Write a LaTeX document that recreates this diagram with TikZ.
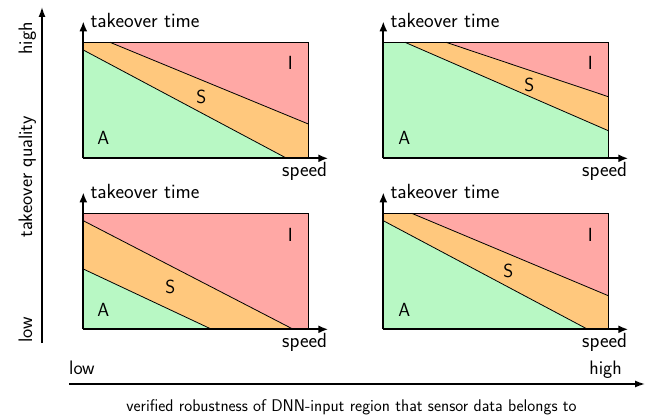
\documentclass[tikz,border=0pt]{standalone}
\usetikzlibrary{arrows.meta}
\definecolor{regA}{RGB}{184,248,196}
\definecolor{regS}{RGB}{255,200,125}
\definecolor{regI}{RGB}{255,168,165}
\tikzset{
  region/.style={draw=black, line width=0.8pt},
  frame/.style={draw=black, line width=0.8pt},
  paxis/.style={line width=2.2pt, -{Latex[length=10pt,width=8pt]}},
  baxis/.style={line width=1.4pt, -{Latex[length=10pt,width=7pt]}},
  lbl/.style={font=\sffamily\fontsize{20.5}{24}\selectfont, inner sep=0pt},
  reg/.style={font=\sffamily\fontsize{19}{22}\selectfont, inner sep=0pt},
  big/.style={font=\sffamily\fontsize{19.5}{23}\selectfont, inner sep=0pt},
  captext/.style={font=\sffamily\fontsize{16.9}{20}\selectfont, inner sep=0pt}
}
\newcommand\panelaxes[1]{%
  \draw[frame] (0,0) rectangle (225,-116);
  \coordinate (#1o) at (0,0);
  \coordinate (#1y) at (0,-137);
  \coordinate (#1x) at (245,0);
  \draw[paxis] (#1o) -- (#1y);
  \draw[paxis] (#1o) -- (#1x);
  \node[lbl, anchor=mid west] (#1t) at (7,-133) {takeover time};
  \node[lbl, anchor=mid east] (#1s) at (244,16) {speed};
}
\begin{document}
\begin{tikzpicture}[x=1pt,y=-1pt]
\useasboundingbox (0,0) rectangle (662,417);
% panel 1 (top-left)
\begin{scope}[shift={(83.3,158.3)}]
  \fill[regI] (26.7,-116) -- (225,-116) -- (225,-34.3) -- cycle;
  \fill[regS] (0,-108.3) -- (0,-116) -- (26.7,-116) -- (225,-34.3) -- (225,0) -- (203.4,0) -- cycle;
  \fill[regA] (0,0) -- (0,-108.3) -- (203.4,0) -- cycle;
  \draw[region] (26.7,-116) -- (225,-34.3);
  \draw[region] (0,-108.3) -- (203.4,0);
  \panelaxes{a}
  \node[reg] (aI) at (207,-95) {I};
  \node[reg] (aS) at (118,-61) {S};
  \node[reg] (aA) at (20,-20) {A};
\end{scope}
% panel 2 (top-right)
\begin{scope}[shift={(383.3,158.3)}]
  \fill[regI] (62.7,-116) -- (225,-116) -- (225,-61.6) -- cycle;
  \fill[regS] (21.7,-116) -- (62.7,-116) -- (225,-61.6) -- (225,-27.6) -- cycle;
  \fill[regA] (0,0) -- (0,-116) -- (21.7,-116) -- (225,-27.6) -- (225,0) -- cycle;
  \draw[region] (62.7,-116) -- (225,-61.6);
  \draw[region] (21.7,-116) -- (225,-27.6);
  \panelaxes{b}
  \node[reg] (bI) at (207,-95) {I};
  \node[reg] (bS) at (146,-73) {S};
  \node[reg] (bA) at (21,-20) {A};
\end{scope}
% panel 3 (bottom-left)
\begin{scope}[shift={(83.3,329.3)}]
  \fill[regI] (0,-108.6) -- (0,-116) -- (225,-116) -- (225,0) -- (210,0) -- cycle;
  \fill[regS] (0,-60.3) -- (0,-108.6) -- (210,0) -- (128.4,0) -- cycle;
  \fill[regA] (0,0) -- (0,-60.3) -- (128.4,0) -- cycle;
  \draw[region] (0,-108.6) -- (210,0);
  \draw[region] (0,-60.3) -- (128.4,0);
  \panelaxes{c}
  \node[reg] (cI) at (207,-94) {I};
  \node[reg] (cS) at (87,-42) {S};
  \node[reg] (cA) at (20,-19) {A};
\end{scope}
% panel 4 (bottom-right)
\begin{scope}[shift={(383.3,329.3)}]
  \fill[regI] (28.4,-116) -- (225,-116) -- (225,-33.6) -- cycle;
  \fill[regS] (0,-108.6) -- (0,-116) -- (28.4,-116) -- (225,-33.6) -- (225,0) -- (204.4,0) -- cycle;
  \fill[regA] (0,0) -- (0,-108.6) -- (204.4,0) -- cycle;
  \draw[region] (28.4,-116) -- (225,-33.6);
  \draw[region] (0,-108.6) -- (204.4,0);
  \panelaxes{d}
  \node[reg] (dI) at (207,-94) {I};
  \node[reg] (dS) at (125,-58.6) {S};
  \node[reg] (dA) at (21,-19) {A};
\end{scope}
% big vertical axis
\coordinate (vb) at (42,343);
\coordinate (vt) at (42,7);
\draw[baxis] (vb) -- (vt);
\node[big, rotate=90, anchor=mid east] (vhigh) at (30,22) {high};
\node[big, rotate=90, anchor=mid west] (vlow) at (30,343) {low};
\node[big, rotate=90, anchor=mid] (vq) at (30,177) {takeover quality};
% big horizontal axis
\coordinate (hl) at (69,384);
\coordinate (hr) at (645,384);
\draw[baxis] (hl) -- (hr);
\node[big, anchor=mid west] (hlow) at (69,372) {low};
\node[big, anchor=mid east] (hhigh) at (622,372) {high};
\node[captext] (hcap) at (351.5,407) {verified robustness of DNN-input region that sensor data belongs to};
\end{tikzpicture}
\end{document}
